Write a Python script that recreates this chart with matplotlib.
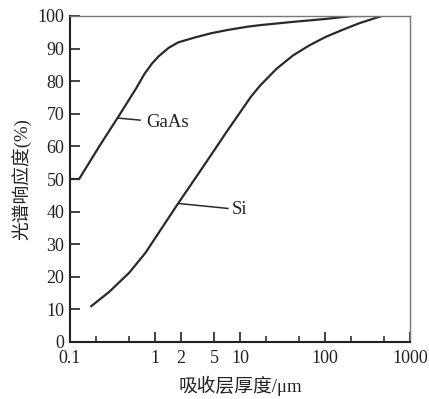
import matplotlib
matplotlib.use("Agg")
import matplotlib.pyplot as plt

# lecture des courbes sur l'image (x en um, y en %)
gaas_x = [0.1, 0.128, 0.222, 0.362, 0.6, 0.75, 0.92, 1.10, 1.44, 1.87, 2.93, 4.56, 7.1,
          12.1, 17.3, 42, 102, 208, 300]
gaas_y = [50, 50, 60.1, 68.7, 77.8, 82.2, 85.4, 87.6, 90.2, 91.9, 93.4, 94.7, 95.7,
          96.7, 97.2, 98.2, 99.1, 100, 100]

si_x = [0.178, 0.29, 0.495, 0.77, 1.87, 3.65, 7.1, 10, 13.5, 17.3, 26.9, 42, 65.5,
        102, 159, 248, 463]
si_y = [11.0, 15.4, 21.2, 27.3, 42.5, 53.6, 64.8, 70.4, 75.3, 78.7, 83.8, 87.9, 91.0,
        93.6, 95.7, 97.7, 100]

xticks = [0.1, 1, 2, 5, 10, 100, 1000]
xticklabels = ["0.1", "1", "2", "5", "10", "100", "1000"]
xminor = [0.2, 0.5, 20, 50, 200, 500]
yticks = list(range(0, 101, 10))

serif = ["Liberation Serif", "Noto Sans CJK SC"]
plt.rcParams["font.family"] = serif

fig = plt.figure(figsize=(4.29, 3.99), dpi=100)
ax = fig.add_axes([70 / 429, 57 / 399, 340 / 429, 326 / 399])

ax.plot(gaas_x, gaas_y, color="#2a2a2a", lw=1.6, solid_joinstyle="round")
ax.plot(si_x, si_y, color="#2a2a2a", lw=1.6, solid_joinstyle="round")

# annotations avec trait de rappel
ax.annotate("GaAs", xy=(0.362, 68.7), xytext=(0.78, 67.3), fontsize=13.5,
            va="center", ha="left", color="#222222",
            arrowprops=dict(arrowstyle="-", color="#2a2a2a", lw=1.1, shrinkA=2, shrinkB=0))
ax.annotate("Si", xy=(1.87, 42.5), xytext=(8.1, 40.6), fontsize=13.5,
            va="center", ha="left", color="#222222",
            arrowprops=dict(arrowstyle="-", color="#2a2a2a", lw=1.1, shrinkA=1, shrinkB=0))

ax.set_xscale("log")
ax.set_xlim(0.1, 1000)
ax.set_ylim(0, 100)
ax.set_xticks(xticks)
ax.set_xticklabels(xticklabels)
ax.set_xticks(xminor, minor=True)
ax.set_xticklabels([], minor=True)
ax.set_yticks(yticks)

ax.tick_params(axis="both", which="major", direction="in", length=7, width=1.2,
               labelsize=13, colors="#222222", pad=4)
ax.tick_params(axis="x", which="minor", direction="in", length=4, width=1.1, colors="#222222")
ax.tick_params(axis="x", which="major", pad=6)

for side in ["left", "bottom"]:
    ax.spines[side].set_linewidth(1.5)
    ax.spines[side].set_color("#222222")
for side in ["top", "right"]:
    ax.spines[side].set_linewidth(1.0)
    ax.spines[side].set_color("#777777")

ax.set_xlabel("吸收层厚度/μm", fontsize=13.5, color="#222222", labelpad=6)
ax.set_ylabel("光谱响应度(%)", fontsize=13.5, color="#222222", labelpad=4)

fig.savefig("out.png", dpi=100)
